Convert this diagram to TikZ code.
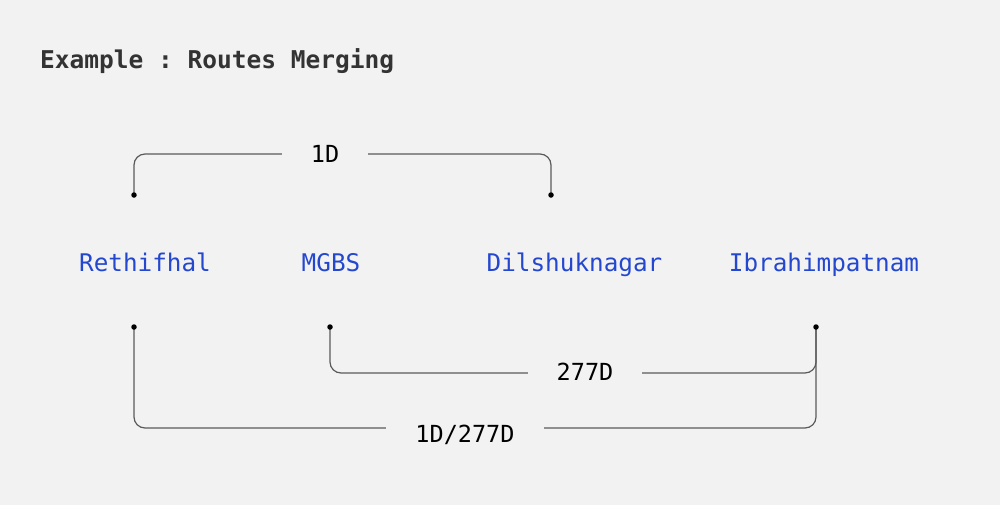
\documentclass[tikz,border=0pt]{standalone}
\usepackage{fontspec}
\setmonofont{DejaVu Sans Mono}
\begin{document}
\begin{tikzpicture}[x=1pt,y=-1pt,
  bg/.style={fill=bgc,draw=none},
  station/.style={font=\ttfamily\fontsize{24.3}{28}\selectfont,text=stblue,anchor=base,inner sep=0pt},
  lab/.style={font=\ttfamily\fontsize{23.5}{28}\selectfont,text=black,fill=bgc,inner xsep=28.5pt,inner ysep=2pt},
  route/.style={draw=linec,line width=1.2pt,rounded corners=11pt},
  dot/.style={circle,fill=black,inner sep=0pt,minimum size=5.5pt}]
\definecolor{bgc}{HTML}{F2F2F2}
\definecolor{stblue}{HTML}{2447D0}
\definecolor{linec}{HTML}{5A5A5A}
\definecolor{titlec}{HTML}{333333}
\useasboundingbox (0,0) rectangle (1000,504);
\path[bg] (-10,-10) rectangle (1010,514);
% title
\node[font=\ttfamily\bfseries\fontsize{24.5}{28}\selectfont,text=titlec,anchor=base west,inner sep=0pt] (title) at (40,68) {Example : Routes Merging};
% stations
\node[station] (reth) at (145,271) {Rethifhal};
\node[station] (mgbs) at (331,271) {MGBS};
\node[station] (dils) at (574.5,271) {Dilshuknagar};
\node[station] (ibra) at (824,271) {Ibrahimpatnam};
% connector end points
\coordinate (rt) at (134,195);
\coordinate (dt) at (551,195);
\coordinate (rb) at (134,327);
\coordinate (mb) at (330,327);
\coordinate (ib) at (816,327);
% level coordinates
\coordinate (h1) at (325,154);
\coordinate (h2) at (585,373);
\coordinate (h3) at (465,428);
% routes
\draw[route] (rt) |- (h1) -| (dt);
\draw[route] (mb) |- (h2) -| (ib);
\draw[route] (rb) |- (h3) -| (ib);
% labels
\node[lab] (l1) at (325,154) {1D};
\node[lab] (l2) at (585,372) {277D};
\node[lab,inner xsep=29.5pt] (l3) at (465,435) {1D/277D};
% dots
\foreach \p in {rt,dt,rb,mb,ib} \node[dot] at (\p) {};
\end{tikzpicture}
\end{document}
